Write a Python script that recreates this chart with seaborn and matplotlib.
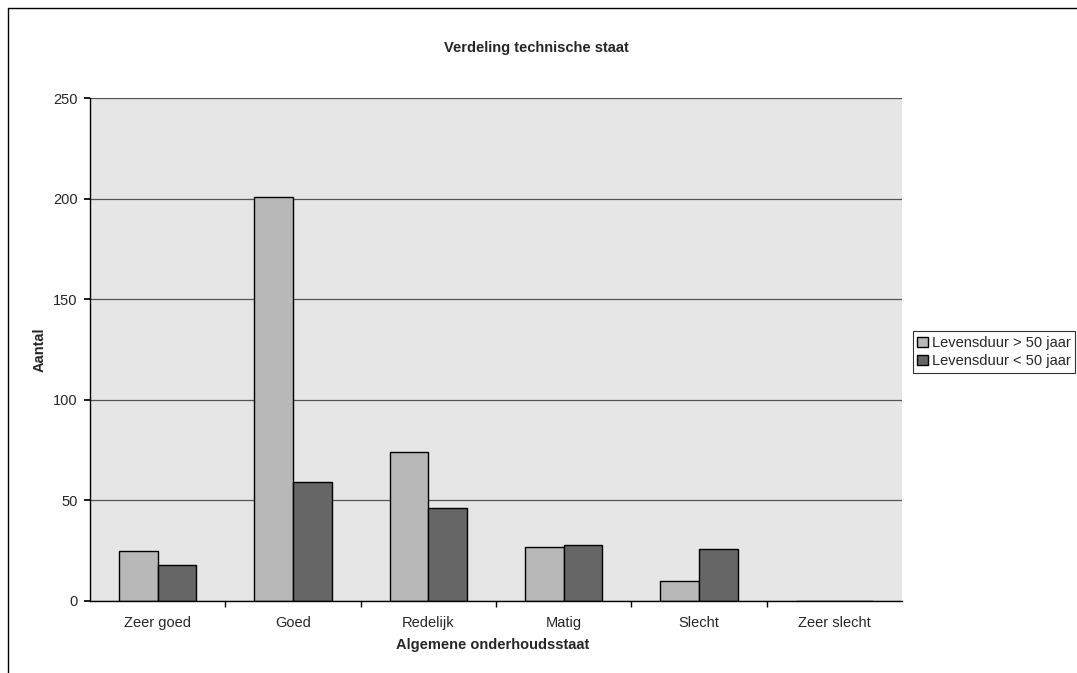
import matplotlib
matplotlib.use("Agg")
import matplotlib.pyplot as plt
import seaborn as sns
import pandas as pd
from matplotlib.lines import Line2D

categories = ["Zeer goed", "Goed", "Redelijk", "Matig", "Slecht", "Zeer slecht"]
series_names = ["Levensduur > 50 jaar", "Levensduur < 50 jaar"]
values_gt50 = [25, 201, 74, 27, 10, 0]
values_lt50 = [18, 59, 46, 28, 26, 0]
yticks = [0, 50, 100, 150, 200, 250]

df = pd.DataFrame({
    "cat": categories * 2,
    "serie": [series_names[0]] * len(categories) + [series_names[1]] * len(categories),
    "val": values_gt50 + values_lt50,
})

sns.set_theme(style="white")
plt.rcParams['font.family'] = ['Liberation Sans', 'DejaVu Sans']

fig = plt.figure(figsize=(10.77, 6.73), dpi=100)
ax = fig.add_axes([90/1077, 1-601/673, (902-90)/1077, (601-98)/673])
ax.set_facecolor("#e6e6e6")

sns.barplot(data=df, x="cat", y="val", hue="serie", order=categories,
            hue_order=series_names, palette=["#b8b8b8", "#666666"],
            width=0.57, gap=0, edgecolor="black", linewidth=1.0,
            saturation=1, ax=ax, legend=True)

ax.set_ylim(0, 250)
ax.set_xlim(-0.5, len(categories) - 0.5)
ax.set_yticks(yticks)
ax.set_yticklabels([str(t) for t in yticks], fontsize=10.5)
ax.yaxis.grid(True, color="#555555", linewidth=0.9)
ax.set_axisbelow(True)
for s in ["top", "right"]:
    ax.spines[s].set_visible(False)
ax.spines["left"].set_color("black")
ax.spines["bottom"].set_color("black")
ax.spines["left"].set_linewidth(1.0)
ax.spines["bottom"].set_linewidth(1.0)

ax.tick_params(axis="x", which="major", length=0, labelsize=10.5, pad=11)
ax.set_xticks([i + 0.5 for i in range(len(categories) - 1)], minor=True)
ax.tick_params(axis="x", which="minor", length=4, direction="out", color="black", bottom=True)
ax.tick_params(axis="y", length=4, direction="out", color="black", left=True, labelsize=10.5, pad=5)

ax.set_xlabel("Algemene onderhoudsstaat", fontsize=10.5, fontweight="bold")
ax.set_ylabel("Aantal", fontsize=10.5, fontweight="bold")
ax.xaxis.set_label_coords(493/1077, 1-645/673, transform=fig.transFigure)
ax.yaxis.set_label_coords(40/1077, 1-350/673, transform=fig.transFigure)
ax.xaxis.label.set_va("center")
ax.yaxis.label.set_va("center")
fig.text(536/1077, 1-48/673, "Verdeling technische staat", ha="center", va="center",
         fontsize=10.5, fontweight="bold")

handles, labels = ax.get_legend_handles_labels()
ax.legend(handles, labels, loc="center left", bbox_to_anchor=(913/1077, 1-352/673),
          bbox_transform=fig.transFigure, fontsize=10.5, frameon=True, fancybox=False,
          edgecolor="black", handlelength=0.7, handleheight=0.7, handletextpad=0.3,
          borderpad=0.3, labelspacing=0.3, borderaxespad=0)
ax.get_legend().get_frame().set_linewidth(0.8)

fig.add_artist(Line2D([8/1077, 8/1077], [1-8/673, 0], transform=fig.transFigure,
                      color="black", linewidth=1.0))
fig.add_artist(Line2D([8/1077, 1], [1-8/673, 1-8/673], transform=fig.transFigure,
                      color="black", linewidth=1.0))

fig.savefig("out.png", dpi=100, facecolor="white")
